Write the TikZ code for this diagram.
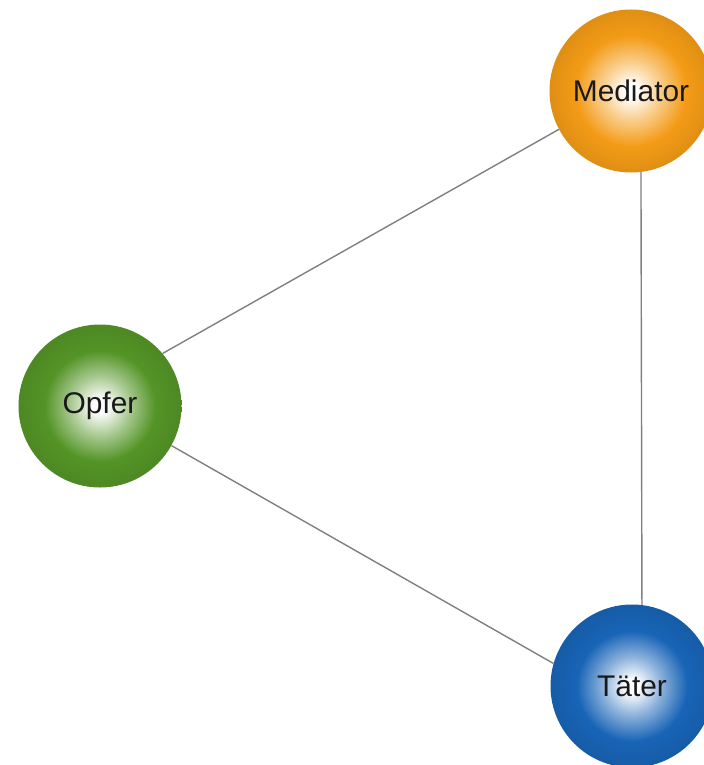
\documentclass[tikz,border=0pt]{standalone}
\usepackage{fontspec}
\setmainfont{Liberation Sans}
\definecolor{medc}{RGB}{243,155,22}
\definecolor{opfc}{RGB}{84,148,38}
\definecolor{tatc}{RGB}{24,100,182}
\definecolor{linkc}{RGB}{128,128,128}
\pgfdeclareradialshading{medshade}{\pgfpointorigin}{color(0bp)=(white); color(2bp)=(white); color(9bp)=(medc!50!white); color(17bp)=(medc); color(25bp)=(medc!92!black); color(50bp)=(medc!92!black)}
\pgfdeclareradialshading{opfshade}{\pgfpointorigin}{color(0bp)=(white); color(2bp)=(white); color(9bp)=(opfc!50!white); color(17bp)=(opfc); color(25bp)=(opfc!92!black); color(50bp)=(opfc!92!black)}
\pgfdeclareradialshading{tatshade}{\pgfpointorigin}{color(0bp)=(white); color(2bp)=(white); color(9bp)=(tatc!50!white); color(17bp)=(tatc); color(25bp)=(tatc!92!black); color(50bp)=(tatc!92!black)}
\begin{document}
\begin{tikzpicture}[x=1bp,y=-1bp,
  ballnode/.style={circle, minimum size=163bp, inner sep=0pt, text=black!90,
    font=\fontsize{30}{36}\selectfont},
  link/.style={draw=linkc, line width=1.4bp}]
\useasboundingbox (0,0) rectangle (704,765);
\clip (0,0) rectangle (704,765);
\fill[white] (0,0) rectangle (704,765);
\node[ballnode, shading=medshade] (med) at (631,91) {Mediator};
\node[ballnode, shading=opfshade] (opf) at (100,406) {Opfer};
\node[ballnode, shading=tatshade] (tat) at (632,686) {Täter};
\draw[link] (med.208) -- (opf.40);
\draw[link] (opf.-29) -- (tat.164);
\draw[link] (med.-83) -- (tat.83);
\end{tikzpicture}
\end{document}
